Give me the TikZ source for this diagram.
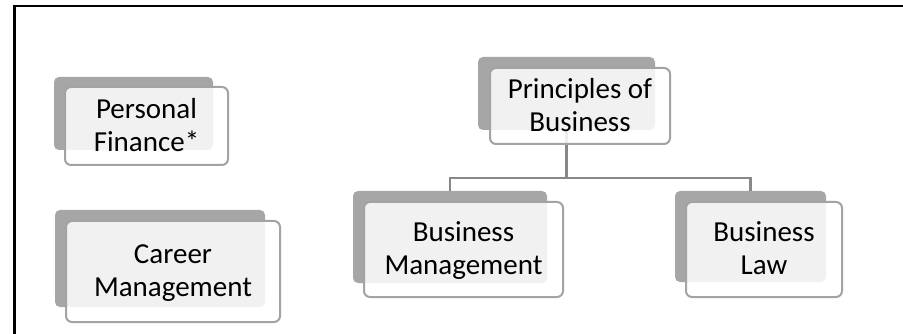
\documentclass[tikz,border=0pt]{standalone}
\usepackage{fontspec}
\setmainfont{Carlito}
\definecolor{backgray}{HTML}{A6A6A6}
\definecolor{edgegray}{HTML}{A3A3A3}
\definecolor{conngray}{HTML}{888888}
\tikzset{
  backbox/.style={rectangle, rounded corners=5pt, fill=backgray, draw=none, inner sep=0pt, outer sep=0pt},
  frontbox/.style={rectangle, rounded corners=6pt, fill=white, fill opacity=0.85, draw=edgegray, draw opacity=1, line width=2pt, inner sep=0pt, outer sep=0pt},
  lbl/.style={align=center, inner sep=0pt, font=\fontsize{29}{33}\selectfont, text=black},
  conn/.style={draw=conngray, line width=2.5pt},
  frame/.style={draw=black, line width=2.5pt}
}
\begin{document}
\begin{tikzpicture}[x=1pt,y=-1pt]
\useasboundingbox (0,0) rectangle (903,334);
\fill[white] (0,0) rectangle (903,334);
% frame
\coordinate (fa) at (14.5,334);
\coordinate (fb) at (14.5,5.8);
\coordinate (fc) at (903,5.8);
\draw[frame] (fa) -- (fb) -- (fc);
% back shapes
\node[backbox, minimum width=159pt, minimum height=73pt] (pfB) at (133.5,113.5) {};
\node[backbox, minimum width=210pt, minimum height=97pt] (cmB) at (160,258.5) {};
\node[backbox, minimum width=177pt, minimum height=73pt] (pbB) at (566.5,93.5) {};
\node[backbox, minimum width=194pt, minimum height=92pt] (bmB) at (450,237) {};
\node[backbox, minimum width=151pt, minimum height=91pt] (blB) at (750.5,236.5) {};
% connectors
\coordinate (hub) at (566.5,178);
\draw[conn] (pbB.south) -- (hub);
\draw[conn] (bmB.north) |- (hub) -| (blB.north);
% front boxes
\node[frontbox, minimum width=163pt, minimum height=78pt] (pfF) at (146.5,126) {};
\node[frontbox, minimum width=214pt, minimum height=101pt] (cmF) at (173,271.5) {};
\node[frontbox, minimum width=180pt, minimum height=76pt] (pbF) at (580,106) {};
\node[frontbox, minimum width=199pt, minimum height=95pt] (bmF) at (463.5,249.5) {};
\node[frontbox, minimum width=156pt, minimum height=95pt] (blF) at (764,249.5) {};
% labels
\node[lbl] (pfT) at ([yshift=-1.5pt]pfF.center) {Personal\\Finance*\vphantom{g}};
\node[lbl] (cmT) at ([yshift=-1.5pt]cmF.center) {Career\\Management\vphantom{g}};
\node[lbl] (pbT) at ([yshift=-1.5pt]pbF.center) {Principles of\\Business\vphantom{g}};
\node[lbl] (bmT) at ([yshift=-1.5pt]bmF.center) {Business\\Management\vphantom{g}};
\node[lbl] (blT) at ([yshift=-1.5pt]blF.center) {Business\\Law\vphantom{g}};
\end{tikzpicture}
\end{document}
